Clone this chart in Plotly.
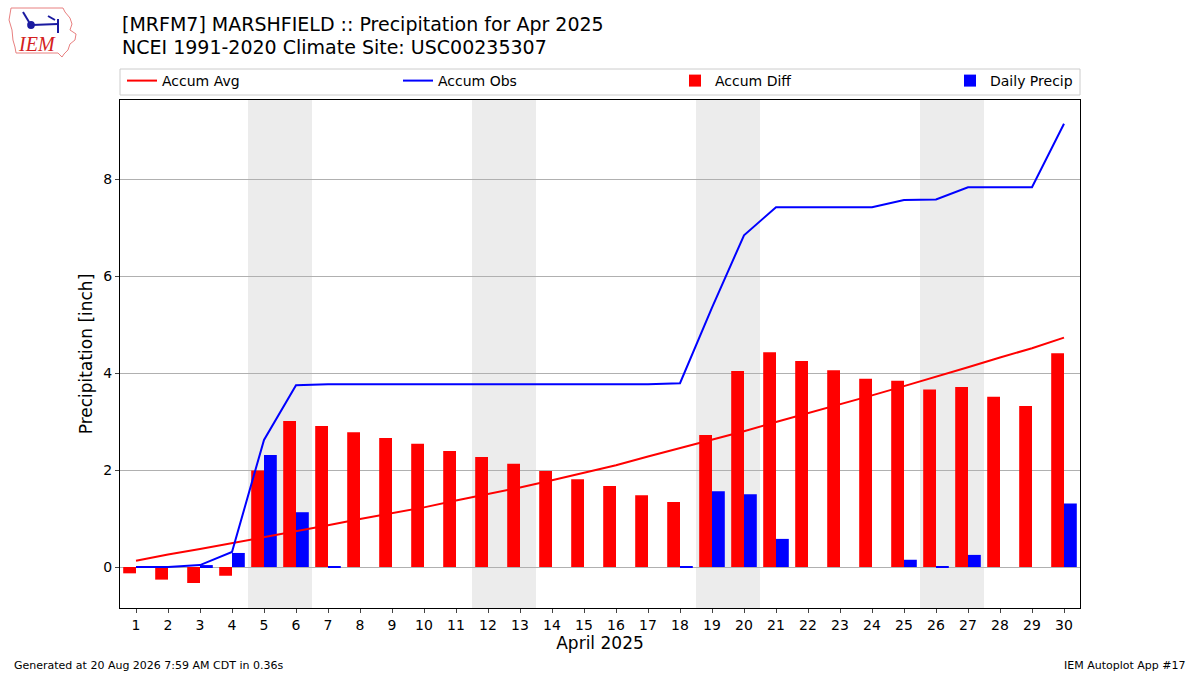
"""Monthly precipitation chart for MRFM7 Marshfield, April 2025."""

import plotly.graph_objects as go

# Values (inches).
days = list(range(1, 31))
accum_avg = [
    0.13, 0.26, 0.37, 0.49, 0.62, 0.74, 0.86, 0.99, 1.11, 1.23,
    1.37, 1.50, 1.64, 1.79, 1.95, 2.10, 2.28, 2.45, 2.63, 2.80,
    2.99, 3.17, 3.36, 3.54, 3.73, 3.92, 4.12, 4.32, 4.51, 4.73,
]
accum_obs = [
    0.00, 0.00, 0.04, 0.31, 2.62, 3.75, 3.77, 3.77, 3.77, 3.77,
    3.77, 3.77, 3.77, 3.77, 3.77, 3.77, 3.77, 3.79, 5.35, 6.84,
    7.42, 7.42, 7.42, 7.42, 7.57, 7.58, 7.83, 7.83, 7.83, 9.14,
]
accum_diff = [
    -0.13, -0.26, -0.33, -0.18, 1.99, 3.01, 2.91, 2.78, 2.66, 2.54,
    2.39, 2.27, 2.13, 1.98, 1.81, 1.67, 1.48, 1.34, 2.72, 4.04,
    4.43, 4.25, 4.06, 3.88, 3.84, 3.66, 3.71, 3.51, 3.32, 4.41,
]
daily_precip = [
    0.00, 0.00, 0.04, 0.29, 2.31, 1.13, 0.02, 0.00, 0.00, 0.00,
    0.00, 0.00, 0.00, 0.00, 0.00, 0.00, 0.00, 0.02, 1.56, 1.50,
    0.58, 0.00, 0.00, 0.00, 0.15, 0.01, 0.25, 0.00, 0.00, 1.31,
]
# Saturdays of the month; each weekend is shaded.
weekend_starts = [5, 12, 19, 26]
y_ticks = [0, 2, 4, 6, 8]

# Plot area geometry in pixels, used for placing text around it.
_W, _H = 1200, 675
_L, _R, _T, _B = 120, 120, 100, 67
_FONT = "DejaVu Sans"


def _px(x, y):
    """Pixel position -> paper coordinates."""
    return (x - _L) / (_W - _L - _R), (_H - _B - y) / (_H - _T - _B)


fig = go.Figure()
fig.add_scatter(
    x=days, y=accum_avg, mode="lines", name="Accum Avg",
    line={"color": "#ff0000", "width": 2}, legend="legend",
)
fig.add_scatter(
    x=days, y=accum_obs, mode="lines", name="Accum Obs",
    line={"color": "#0000ff", "width": 2}, legend="legend2",
)
fig.add_bar(
    x=days, y=accum_diff, name="Accum Diff", offset=-0.4, width=0.4,
    marker={"color": "#ff0000", "line": {"width": 0}}, legend="legend3",
)
fig.add_bar(
    x=days, y=daily_precip, name="Daily Precip", offset=0, width=0.4,
    marker={"color": "#0000ff", "line": {"width": 0}}, legend="legend4",
)

shapes = []
for d in weekend_starts:
    shapes.append(dict(
        type="rect", xref="x", yref="paper", x0=d - 0.5, x1=d + 1.5, y0=0, y1=1,
        fillcolor="#ececec", line={"width": 0}, layer="below",
    ))

# legend frame
x0, y0 = _px(120, 69)
x1, y1 = _px(1080, 95)
shapes.append(dict(
    type="rect", xref="paper", yref="paper", x0=x0, x1=x1, y0=y0, y1=y1,
    line={"color": "#cccccc", "width": 1}, fillcolor="rgba(255,255,255,0.8)",
))

# rough IEM logo: state outline and station glyph
outline = [(11, 8), (63, 8), (65, 12), (70, 18), (72, 24), (70, 30), (76, 34),
           (75, 40), (70, 44), (68, 50), (64, 54), (62, 57), (58, 53), (16, 53),
           (15, 47), (13, 40), (12, 30), (9, 20), (11, 8)]
path = "M" + " L".join("%.4f,%.4f" % _px(x, y) for x, y in outline) + " Z"
shapes.append(dict(type="path", xref="paper", yref="paper", path=path,
                   line={"color": "#e88080", "width": 1}))
for (ax, ay), (bx, by) in [((32, 25), (58, 24)), ((23, 12), (29, 22)),
                           ((48, 16), (55, 20)), ((58, 19), (58, 33))]:
    a, b = _px(ax, ay), _px(bx, by)
    shapes.append(dict(type="line", xref="paper", yref="paper",
                       x0=a[0], y0=a[1], x1=b[0], y1=b[1],
                       line={"color": "#1a1aa0", "width": 2}))
cx, cy = _px(31, 25)
shapes.append(dict(type="circle", xref="paper", yref="paper",
                   x0=cx - 0.004, x1=cx + 0.004, y0=cy - 0.008, y1=cy + 0.008,
                   fillcolor="#1a1aa0", line={"width": 0}))

annotations = []
for text, py in [("[MRFM7] MARSHFIELD :: Precipitation for Apr 2025", 24),
                 ("NCEI 1991-2020 Climate Site: USC00235307", 47)]:
    ax, ay = _px(120, py)
    annotations.append(dict(
        text=text, xref="paper", yref="paper", x=ax, y=ay, xanchor="left",
        yanchor="middle", showarrow=False, font={"size": 19, "family": _FONT},
    ))
ax, ay = _px(37, 44)
annotations.append(dict(
    text="<i>IEM</i>", xref="paper", yref="paper", x=ax, y=ay, showarrow=False,
    xanchor="center", yanchor="middle",
    font={"size": 20, "family": "Liberation Serif", "color": "#d42020"},
))
ax, ay = _px(12, 665)
annotations.append(dict(
    text="Generated at 20 Aug 2026 7:59 AM CDT in 0.36s", xref="paper", yref="paper",
    x=ax, y=ay, xanchor="left", yanchor="middle", showarrow=False,
    font={"size": 11, "family": _FONT},
))
ax, ay = _px(1188, 665)
annotations.append(dict(
    text="IEM Autoplot App #17", xref="paper", yref="paper",
    x=ax, y=ay, xanchor="right", yanchor="middle", showarrow=False,
    font={"size": 11, "family": _FONT},
))

# one legend per trace so the entries spread across the frame like the original
legend_px = [122, 398, 675, 950]
legends = {}
for i, lx in enumerate(legend_px):
    key = "legend" if i == 0 else "legend%d" % (i + 1)
    px_, py_ = _px(lx, 81)
    legends[key] = dict(
        x=px_, y=py_, xanchor="left", yanchor="middle", orientation="h",
        bgcolor="rgba(0,0,0,0)", font={"size": 14, "family": _FONT},
    )

fig.update_layout(
    width=_W,
    height=_H,
    margin={"l": _L, "r": _R, "t": _T, "b": _B},
    paper_bgcolor="white",
    plot_bgcolor="white",
    barmode="overlay",
    font={"family": _FONT, "color": "black"},
    showlegend=True,
    shapes=shapes,
    annotations=annotations,
    **legends,
)
fig.update_xaxes(
    range=[0.5, 30.5], tickvals=days, ticks="outside", ticklen=4,
    showline=True, linecolor="black", linewidth=1, mirror=True, showgrid=False,
    tickfont={"size": 14}, title={"text": "April 2025", "font": {"size": 17}, "standoff": 4},
)
fig.update_yaxes(
    range=[-0.845, 9.63], tickvals=y_ticks, ticks="outside", ticklen=4,
    showline=True, linecolor="black", linewidth=1, mirror=True,
    showgrid=True, gridcolor="#b0b0b0", zeroline=False,
    tickfont={"size": 14},
    title={"text": "Precipitation [inch]", "font": {"size": 17}, "standoff": 6},
)

fig.write_html(
    "out.html",
    config={"displayModeBar": False},
    post_script="document.body.style.margin = '0';",
)
